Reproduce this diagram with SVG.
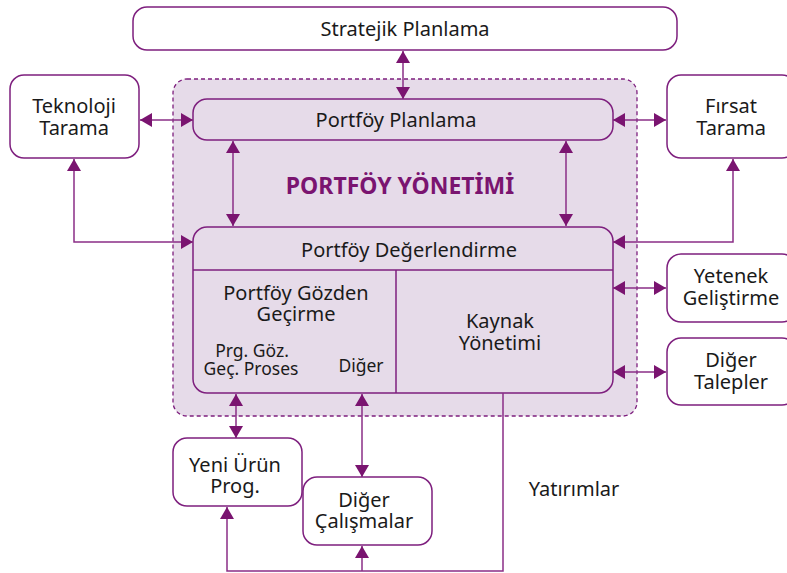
<svg xmlns="http://www.w3.org/2000/svg" width="787" height="573" viewBox="0 0 787 573">
<style>
.box{fill:#fff;stroke:#7e1f7e;stroke-width:1.5}
.in{fill:none;stroke:#7e1f7e;stroke-width:1.5}
.ln{fill:none;stroke:#8a2e86;stroke-width:1.5}
text{font-family:"Noto Sans","Open Sans",sans-serif;font-size:20px;fill:#1a1a1a;text-anchor:middle}
.sm{font-size:17.5px}
.title{font-size:23px;font-weight:bold;fill:#7a1470}
</style>
<defs>
<marker id="ah" viewBox="0 0 12 14" refX="12" refY="7" markerWidth="12" markerHeight="14" markerUnits="userSpaceOnUse" orient="auto-start-reverse">
<path d="M0,0 L12,7 L0,14 Z" fill="#7a1470"/>
</marker>
</defs>
<rect x="0" y="0" width="787" height="573" fill="#fff"/>
<g id="portfoy-yonetimi">
<rect x="173" y="79" width="464" height="337" rx="14" fill="#e6dbe9" stroke="#7e1f7e" stroke-width="1.3" stroke-dasharray="4,3"/>
<text class="title" x="400" y="194">PORTFÖY YÖNETİMİ</text>
</g>
<g id="stratejik">
<rect class="box" x="133" y="7" width="544" height="43" rx="14"/>
<text x="405" y="36">Stratejik Planlama</text>
</g>
<g id="portfoy-planlama">
<rect class="in" x="193" y="99" width="420" height="41" rx="14"/>
<text x="396" y="127">Portföy Planlama</text>
</g>
<g id="teknoloji">
<rect class="box" x="10" y="75" width="129" height="83" rx="14"/>
<text x="74" y="113">Teknoloji</text>
<text x="74" y="135">Tarama</text>
</g>
<g id="firsat">
<rect class="box" x="667" y="75" width="129" height="83" rx="14"/>
<text x="731" y="113">Fırsat</text>
<text x="731" y="135">Tarama</text>
</g>
<g id="degerlendirme">
<rect class="in" x="193" y="227" width="420" height="166" rx="14"/>
<line class="in" x1="193" y1="270" x2="613" y2="270"/>
<line class="in" x1="396" y1="270" x2="396" y2="393"/>
<text x="409" y="257">Portföy Değerlendirme</text>
<text x="296" y="300">Portföy Gözden</text>
<text x="296" y="321">Geçirme</text>
<text class="sm" x="252" y="357">Prg. Göz.</text>
<text class="sm" x="251" y="375">Geç. Proses</text>
<text class="sm" x="361" y="372">Diğer</text>
<text x="500" y="328">Kaynak</text>
<text x="500" y="350">Yönetimi</text>
</g>
<g id="yetenek">
<rect class="box" x="667" y="254" width="129" height="68" rx="14"/>
<text x="731" y="283">Yetenek</text>
<text x="731" y="305">Geliştirme</text>
</g>
<g id="diger-talepler">
<rect class="box" x="667" y="338" width="129" height="67" rx="14"/>
<text x="731" y="367">Diğer</text>
<text x="731" y="389">Talepler</text>
</g>
<g id="yeni-urun">
<rect class="box" x="173" y="438" width="129" height="68" rx="14"/>
<text x="235" y="472">Yeni Ürün</text>
<text x="235" y="493">Prog.</text>
</g>
<g id="diger-calismalar">
<rect class="box" x="303" y="477" width="129" height="68" rx="14"/>
<text x="364" y="507">Diğer</text>
<text x="364" y="528">Çalışmalar</text>
</g>
<g id="yatirimlar-label">
<text x="574" y="496">Yatırımlar</text>
</g>
<g id="connectors">
<line class="ln" x1="403" y1="51" x2="403" y2="99" marker-start="url(#ah)" marker-end="url(#ah)"/>
<line class="ln" x1="140" y1="120" x2="193" y2="120" marker-start="url(#ah)" marker-end="url(#ah)"/>
<line class="ln" x1="613" y1="120" x2="666" y2="120" marker-start="url(#ah)" marker-end="url(#ah)"/>
<line class="ln" x1="233" y1="141" x2="233" y2="226" marker-start="url(#ah)" marker-end="url(#ah)"/>
<line class="ln" x1="566" y1="141" x2="566" y2="226" marker-start="url(#ah)" marker-end="url(#ah)"/>
<polyline class="ln" points="74,159 74,242 193,242" marker-start="url(#ah)" marker-end="url(#ah)"/>
<polyline class="ln" points="733,159 733,242 613,242" marker-start="url(#ah)" marker-end="url(#ah)"/>
<line class="ln" x1="613" y1="288" x2="666" y2="288" marker-start="url(#ah)" marker-end="url(#ah)"/>
<line class="ln" x1="613" y1="372" x2="666" y2="372" marker-start="url(#ah)" marker-end="url(#ah)"/>
<line class="ln" x1="236" y1="394" x2="236" y2="438" marker-start="url(#ah)" marker-end="url(#ah)"/>
<line class="ln" x1="362" y1="394" x2="362" y2="477" marker-start="url(#ah)" marker-end="url(#ah)"/>
<polyline class="ln" points="503,393 503,571 227,571 227,507" marker-end="url(#ah)"/>
<line class="ln" x1="362" y1="571" x2="362" y2="546" marker-end="url(#ah)"/>
</g>
</svg>
